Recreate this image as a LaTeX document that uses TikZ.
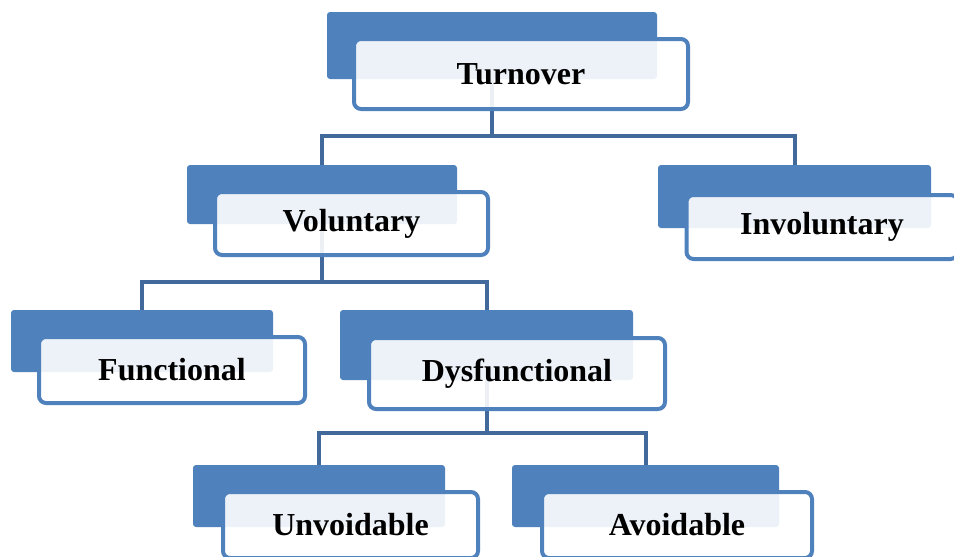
\documentclass[tikz,border=0pt]{standalone}
\usepackage{fontspec}
\setmainfont{Liberation Serif}
\definecolor{boxblue}{HTML}{4F81BD}
\definecolor{linkblue}{HTML}{41699C}

\begin{document}
\begin{tikzpicture}[x=1pt,y=-1pt,
font=\bfseries\fontsize{32}{38}\selectfont,
back/.style={rectangle,rounded corners=3pt,fill=boxblue,inner sep=0pt},
front/.style={rectangle,rounded corners=7pt,draw=boxblue,line width=4pt,
  fill=white,fill opacity=0.9,text opacity=1,inner sep=0pt},
link/.style={draw=linkblue,line width=4pt}
]
\useasboundingbox (0,0) rectangle (954,557);

\node[back,minimum width=330pt,minimum height=67pt] (turnbk) at (492,45.5) {};
\node[back,minimum width=270pt,minimum height=59pt] (volbk) at (322,194.5) {};
\node[back,minimum width=273pt,minimum height=63pt] (invbk) at (794.5,196.5) {};
\node[back,minimum width=262pt,minimum height=62pt] (funcbk) at (142,341) {};
\node[back,minimum width=293pt,minimum height=70pt] (dysbk) at (486.5,345) {};
\node[back,minimum width=252pt,minimum height=62pt] (unvbk) at (319,496) {};
\node[back,minimum width=267pt,minimum height=62pt] (avbk) at (645.5,496) {};

\coordinate (j1) at (492,136);
\coordinate (j2) at (322,282);
\coordinate (j3) at (486.5,433);
\draw[link] (turnbk.south) -- (j1) -| (volbk.north);
\draw[link] (j1) -| (invbk.north);
\draw[link] (volbk.south) -- (j2) -| (funcbk.north);
\draw[link] (j2) -| (dysbk.north);
\draw[link] (dysbk.south) -- (j3) -| (unvbk.north);
\draw[link] (j3) -| (avbk.north);

\node[front,minimum width=334pt,minimum height=70pt] (turn) at (521,74) {Turnover};
\node[front,minimum width=273pt,minimum height=63pt] (vol) at (351.5,223.5) {Voluntary};
\node[front,minimum width=271pt,minimum height=64pt] (inv) at (822,227) {Involuntary};
\node[front,minimum width=266pt,minimum height=66pt] (func) at (172,370) {Functional};
\node[front,minimum width=296pt,minimum height=71pt] (dys) at (517,373.5) {Dysfunctional};
\node[front,minimum width=255pt,minimum height=66pt] (unv) at (350.5,525) {Unvoidable};
\node[front,minimum width=270pt,minimum height=66pt] (av) at (677,525) {Avoidable};
\end{tikzpicture}
\end{document}
